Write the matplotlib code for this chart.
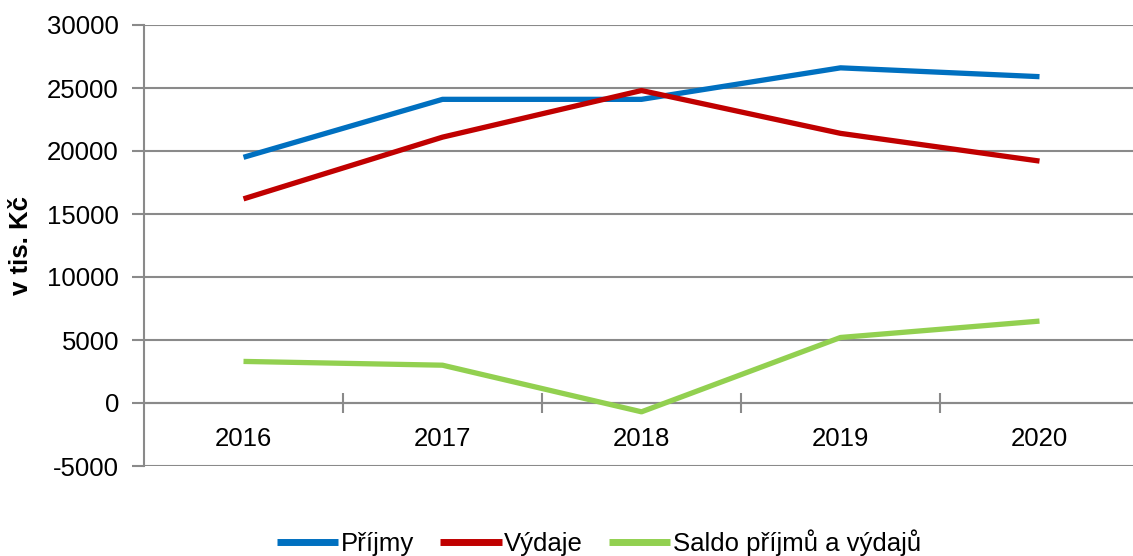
import matplotlib
matplotlib.use("Agg")
import matplotlib.pyplot as plt
from matplotlib.ticker import FixedLocator

years = ["2016", "2017", "2018", "2019", "2020"]
prijmy = [19500, 24100, 24100, 26600, 25900]
vydaje = [16200, 21100, 24800, 21400, 19200]
saldo = [3300, 3000, -700, 5200, 6500]
series_names = ["Příjmy", "Výdaje", "Saldo příjmů a výdajů"]
yticks = [-5000, 0, 5000, 10000, 15000, 20000, 25000, 30000]

plt.rcParams['font.family'] = ['Liberation Sans', 'DejaVu Sans']

W, H = 1133, 556
fig = plt.figure(figsize=(W / 100, H / 100), dpi=100)
ax = fig.add_axes([144 / W, 1 - 466 / H, (1139 - 144) / W, (466 - 25) / H])

x = list(range(len(years)))
colors = ["#0070C0", "#C00000", "#92D050"]
for vals, c, name in zip([prijmy, vydaje, saldo], colors, series_names):
    ax.plot(x, vals, color=c, lw=3.8, label=name, solid_capstyle='butt', zorder=3)

ax.set_xlim(-0.5, len(years) - 0.5)
ax.set_ylim(-5000, 30000)
ax.set_yticks(yticks)
ax.set_yticklabels([str(v) for v in yticks])
ax.yaxis.grid(True, color="#8a8a8a", lw=1.5)
ax.set_axisbelow(True)

for s in ['top', 'right']:
    ax.spines[s].set_visible(False)
ax.spines['left'].set_color("#8a8a8a")
ax.spines['left'].set_linewidth(1.5)
ax.spines['bottom'].set_position(('data', 0))
ax.spines['bottom'].set_color("#8a8a8a")
ax.spines['bottom'].set_linewidth(1.5)

FS = 18.5
ax.set_xticks(x)
ax.set_xticklabels(years)
ax.xaxis.set_minor_locator(FixedLocator([i + 0.5 for i in range(len(years) - 1)]))
ax.tick_params(axis='x', which='major', length=0, pad=17, labelsize=FS)
ax.tick_params(axis='x', which='minor', length=14, direction='inout', color="#8a8a8a", width=1.5)
ax.tick_params(axis='y', which='major', length=9, color="#8a8a8a", width=1.5, labelsize=FS, pad=9)

ax.set_ylabel("v tis. Kč", fontsize=FS, fontweight='bold')
ax.yaxis.set_label_coords(-0.112, 0.5)

leg = fig.legend(loc='center', bbox_to_anchor=(599 / W, 1 - 543 / H), ncol=3, frameon=False,
                 fontsize=FS, handlelength=2.4, handletextpad=0.1, columnspacing=1.0)
for line in leg.get_lines():
    line.set_linewidth(5)

fig.savefig("out.png", dpi=100)
